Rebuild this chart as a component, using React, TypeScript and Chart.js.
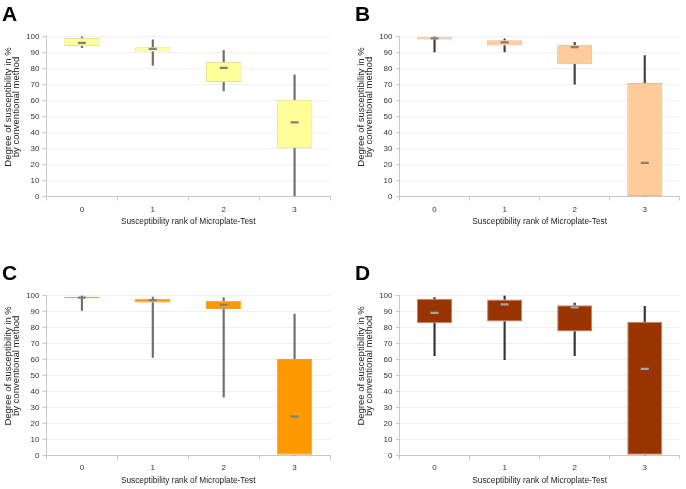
import React, { useEffect, useRef } from 'react';
import { Chart, registerables } from 'chart.js';

Chart.register(...registerables);

const FONT = '"Liberation Sans", Arial, Helvetica, sans-serif';

const categories = ['0', '1', '2', '3'];
const yAxisTitle = ['Degree of susceptibility in %', 'by conventional method'];
const xAxisTitle = 'Susceptibility rank of Microplate-Test';

// Panel A
const aMin = [93, 82, 66, 0];
const aQ1 = [94, 90.6, 71.5, 30.2];
const aMedian = [96, 92.3, 80.4, 46.3];
const aQ3 = [99, 93.3, 84, 60.4];
const aMax = [100, 97.9, 91.3, 76];

// Panel B
const bMin = [90.4, 90.4, 70.2, 0];
const bQ1 = [98.1, 94.4, 82.7, 0];
const bMedian = [98.8, 96.3, 93.3, 21];
const bQ3 = [99.6, 97.7, 94.8, 71];
const bMax = [100, 98.5, 96.3, 88.1];

// Panel C
const cMin = [90.6, 61.2, 36.3, 0];
const cQ1 = [98.3, 95.6, 91.6, 0];
const cMedian = [98.7, 97.1, 94.2, 24.2];
const cQ3 = [99.2, 97.9, 96.7, 60.3];
const cMax = [100, 99, 98.7, 88.3];

// Panel D
const dMin = [62.4, 59.9, 62.4, 0];
const dQ1 = [82.7, 83.7, 77.5, 0];
const dMedian = [89.1, 94.4, 92.5, 54.1];
const dQ3 = [97.9, 97.5, 93.9, 83.5];
const dMax = [98.7, 100, 95.2, 93.3];

type PanelProps = {
  label: string;
  min: number[];
  q1: number[];
  med: number[];
  q3: number[];
  max: number[];
  fill: string;
  border: string;
  whisker: string;
  medianColor: string;
  left: number;
  top: number;
  width: number;
  height: number;
  padLeft: number;
  padRight: number;
  padTop: number;
  yWidth: number;
  xHeight: number;
  xTitlePadBottom: number;
  labelLeft: number;
  labelTop: number;
};

const yTitlePlugin = {
  id: 'yTitleCustom',
  afterDraw(chart: any, _args: any, opts: any) {
    const { ctx, chartArea } = chart;
    ctx.save();
    ctx.font = `${opts.size}px ${FONT}`;
    ctx.fillStyle = opts.color;
    ctx.textAlign = 'center';
    ctx.textBaseline = 'middle';
    const cy = (chartArea.top + chartArea.bottom) / 2 + opts.shift;
    (opts.lines as string[]).forEach((line, i) => {
      ctx.save();
      ctx.translate(opts.x + i * opts.spacing, cy);
      ctx.rotate(-Math.PI / 2);
      ctx.fillText(line, 0, 0);
      ctx.restore();
    });
    ctx.restore();
  },
};

function BoxPanel(p: PanelProps) {
  const ref = useRef<HTMLCanvasElement | null>(null);
  useEffect(() => {
    if (!ref.current) return;
    const chart = new Chart(ref.current, {
      type: 'bar',
      data: {
        labels: categories,
        datasets: [
          {
            type: 'line',
            label: 'Median',
            data: p.med,
            showLine: false,
            pointStyle: 'line',
            pointRadius: 4,
            pointHoverRadius: 4,
            pointBorderWidth: 2.2,
            pointBorderColor: p.medianColor,
            pointBackgroundColor: p.medianColor,
            borderColor: p.medianColor,
            order: 0,
          } as any,
          {
            type: 'bar',
            label: 'Interquartile range',
            data: p.q1.map((v, i) => [v, p.q3[i]]),
            backgroundColor: p.fill,
            borderColor: p.border,
            borderWidth: 1,
            borderSkipped: false,
            barPercentage: 0.5,
            categoryPercentage: 1,
            grouped: false,
            order: 1,
          } as any,
          {
            type: 'bar',
            label: 'Lower whisker',
            data: p.min.map((v, i) => [v, p.q1[i]]),
            backgroundColor: p.whisker,
            borderWidth: 0,
            barThickness: 1.5,
            grouped: false,
            order: 2,
          } as any,
          {
            type: 'bar',
            label: 'Upper whisker',
            data: p.q3.map((v, i) => [v, p.max[i]]),
            backgroundColor: p.whisker,
            borderWidth: 0,
            barThickness: 1.5,
            grouped: false,
            order: 2,
          } as any,
        ],
      },
      options: {
        responsive: false,
        animation: false,
        devicePixelRatio: 1,
        layout: {
          padding: { left: p.padLeft, right: p.padRight, top: p.padTop, bottom: 0 },
        },
        plugins: {
          legend: { display: false },
          tooltip: { enabled: false },
          yTitleCustom: {
            lines: yAxisTitle,
            size: 9.5,
            color: '#222',
            x: p.padLeft + 8,
            spacing: 8.5,
            shift: -9.5,
          },
        } as any,
        scales: {
          x: {
            type: 'category',
            offset: true,
            grid: {
              offset: true,
              drawOnChartArea: false,
              tickLength: 4,
              tickColor: '#c8c8c8',
            },
            border: { color: '#c8c8c8' },
            ticks: {
              font: { size: 8, family: FONT },
              color: '#333',
              padding: 4,
            },
            title: {
              display: true,
              text: xAxisTitle,
              font: { size: 8.3, family: FONT },
              color: '#222',
              padding: { top: 0, bottom: p.xTitlePadBottom },
            },
            afterFit: (scale: any) => {
              scale.height = p.xHeight;
            },
          },
          y: {
            min: 0,
            max: 100,
            ticks: {
              stepSize: 10,
              font: { size: 8, family: FONT },
              color: '#333',
              padding: 3,
            },
            grid: {
              color: '#efefef',
              tickLength: 4,
              tickColor: '#c8c8c8',
            },
            border: { color: '#c8c8c8' },
            afterFit: (scale: any) => {
              scale.width = p.yWidth;
            },
          },
        },
      },
      plugins: [yTitlePlugin as any],
    });
    return () => chart.destroy();
  }, []);

  return (
    <div
      style={{
        position: 'absolute',
        left: p.left,
        top: p.top,
        width: p.width,
        height: p.height,
      }}
    >
      <canvas ref={ref} width={p.width} height={p.height} style={{ display: 'block' }} />
      <div
        style={{
          position: 'absolute',
          left: p.labelLeft,
          top: p.labelTop,
          fontFamily: FONT,
          fontWeight: 'bold',
          fontSize: 21,
          lineHeight: '21px',
          color: '#000',
        }}
      >
        {p.label}
      </div>
    </div>
  );
}

export default function App() {
  return (
    <div
      style={{
        position: 'fixed',
        left: 0,
        top: 0,
        width: 686,
        height: 489,
        background: '#fff',
        overflow: 'hidden',
      }}
    >
      <BoxPanel
        label="A"
        min={aMin}
        q1={aQ1}
        med={aMedian}
        q3={aQ3}
        max={aMax}
        fill="#FFFF99"
        border="#E3E38C"
        whisker="#6e6e6e"
        medianColor="#7f7f7f"
        left={0}
        top={0}
        width={343}
        height={245}
        padLeft={0}
        padRight={13}
        padTop={36.5}
        yWidth={46.5}
        xHeight={48.5}
        xTitlePadBottom={18}
        labelLeft={2}
        labelTop={3}
      />
      <BoxPanel
        label="B"
        min={bMin}
        q1={bQ1}
        med={bMedian}
        q3={bQ3}
        max={bMax}
        fill="#FFCC99"
        border="#E9B98C"
        whisker="#404040"
        medianColor="#7f7f7f"
        left={343}
        top={0}
        width={343}
        height={245}
        padLeft={10}
        padRight={3}
        padTop={36.5}
        yWidth={46.5}
        xHeight={48.5}
        xTitlePadBottom={18}
        labelLeft={12}
        labelTop={3}
      />
      <BoxPanel
        label="C"
        min={cMin}
        q1={cQ1}
        med={cMedian}
        q3={cQ3}
        max={cMax}
        fill="#FF9900"
        border="#E8A040"
        whisker="#6e6e6e"
        medianColor="#7f7f7f"
        left={0}
        top={245}
        width={343}
        height={244}
        padLeft={0}
        padRight={13}
        padTop={50.5}
        yWidth={46.5}
        xHeight={33.7}
        xTitlePadBottom={3}
        labelLeft={2}
        labelTop={17}
      />
      <BoxPanel
        label="D"
        min={dMin}
        q1={dQ1}
        med={dMedian}
        q3={dQ3}
        max={dMax}
        fill="#993300"
        border="#C4826A"
        whisker="#333333"
        medianColor="#a6a6a6"
        left={343}
        top={245}
        width={343}
        height={244}
        padLeft={10}
        padRight={3}
        padTop={50.5}
        yWidth={46.5}
        xHeight={33.7}
        xTitlePadBottom={3}
        labelLeft={12}
        labelTop={17}
      />
    </div>
  );
}
